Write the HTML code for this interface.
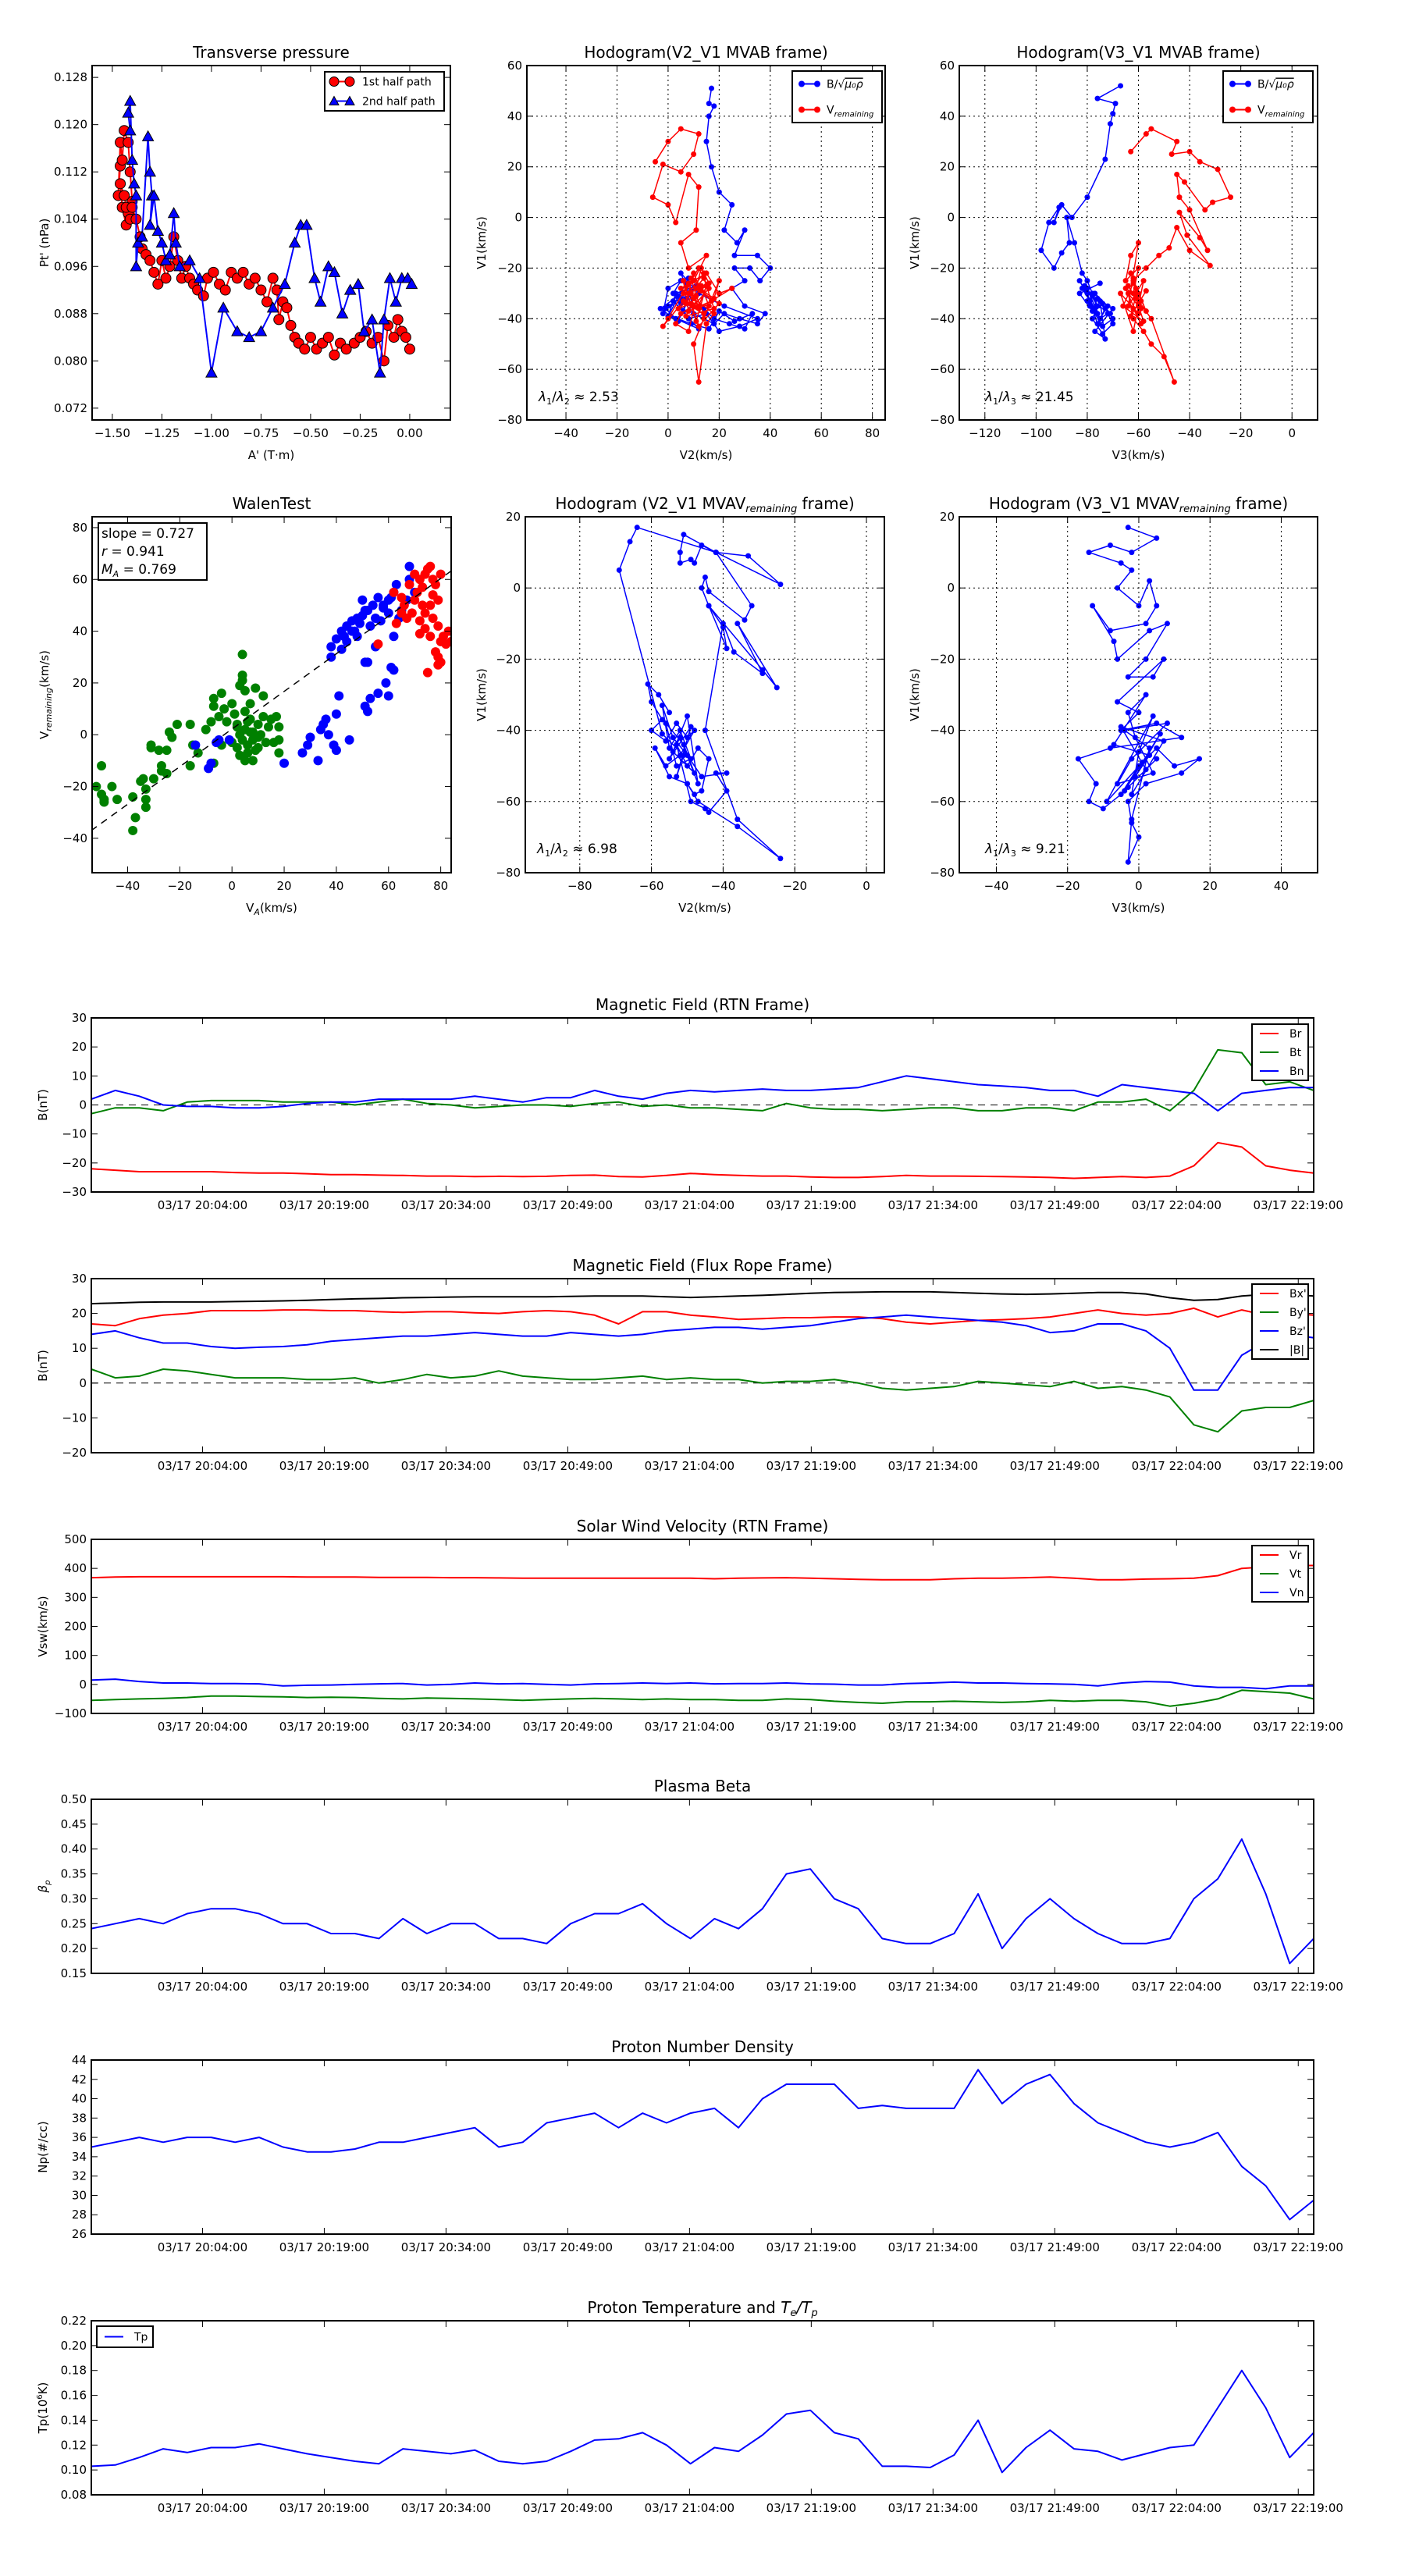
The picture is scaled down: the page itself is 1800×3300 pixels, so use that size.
<!DOCTYPE html>
<html><head><meta charset="utf-8"><style>
html,body{margin:0;padding:0;background:#fff}
svg{display:block}
text{font-family:"DejaVu Sans","Liberation Sans",sans-serif;fill:#000}
</style></head><body>
<svg id="fig" xmlns="http://www.w3.org/2000/svg" width="1800" height="3300" viewBox="0 0 1800 3300">
<rect x="0" y="0" width="1800" height="3300" fill="#fff"/>
</svg>
<script>
// ---------- DATA ----------
const tpRedA=[-1.46,-1.47,-1.46,-1.45,-1.44,-1.42,-1.41,-1.40,-1.42,-1.43,-1.45,-1.46,-1.44,-1.43,-1.41,-1.40,-1.38,-1.36,-1.35,-1.33,-1.31,-1.29,-1.27,-1.25,-1.23,-1.21,-1.19,-1.17,-1.15,-1.13,-1.11,-1.09,-1.07,-1.04,-1.02,-0.99,-0.96,-0.93,-0.90,-0.87,-0.84,-0.81,-0.78,-0.75,-0.72,-0.69,-0.67,-0.66,-0.64,-0.62,-0.60,-0.58,-0.56,-0.53,-0.50,-0.47,-0.44,-0.41,-0.38,-0.35,-0.32,-0.28,-0.25,-0.22,-0.19,-0.16,-0.13,-0.11,-0.08,-0.06,-0.04,-0.02,0.00];
const tpRedP=[0.113,0.108,0.117,0.114,0.119,0.117,0.112,0.107,0.105,0.103,0.106,0.110,0.108,0.106,0.104,0.106,0.104,0.101,0.099,0.098,0.097,0.095,0.093,0.097,0.094,0.096,0.101,0.097,0.094,0.096,0.094,0.093,0.092,0.091,0.094,0.095,0.093,0.092,0.095,0.094,0.095,0.093,0.094,0.092,0.090,0.094,0.092,0.087,0.090,0.089,0.086,0.084,0.083,0.082,0.084,0.082,0.083,0.084,0.081,0.083,0.082,0.083,0.084,0.085,0.083,0.084,0.080,0.086,0.084,0.087,0.085,0.084,0.082];
const tpBlueA=[-1.41,-1.42,-1.41,-1.40,-1.39,-1.38,-1.38,-1.37,-1.35,-1.32,-1.31,-1.30,-1.31,-1.29,-1.27,-1.25,-1.23,-1.21,-1.19,-1.18,-1.16,-1.11,-1.06,-1.00,-0.94,-0.87,-0.81,-0.75,-0.69,-0.63,-0.58,-0.55,-0.52,-0.48,-0.45,-0.41,-0.38,-0.34,-0.30,-0.26,-0.23,-0.19,-0.15,-0.13,-0.10,-0.07,-0.04,-0.01,0.01];
const tpBlueP=[0.119,0.122,0.124,0.114,0.110,0.108,0.096,0.100,0.101,0.118,0.112,0.108,0.103,0.108,0.102,0.100,0.097,0.098,0.105,0.100,0.096,0.097,0.094,0.078,0.089,0.085,0.084,0.085,0.089,0.093,0.100,0.103,0.103,0.094,0.090,0.096,0.095,0.088,0.092,0.093,0.085,0.087,0.078,0.087,0.094,0.090,0.094,0.094,0.093];

const h1BV2=[17,16,18,16,15,17,20,25,22,27,30,26,35,40,36,32,26,30,25,30,38,35,28,22,18,10,5,0,-2,0,5,2,8,15,20,28,35,22,12,5,10,3,12,2,6,9,4,-1,7,11,3,0,8,5,14,18,24,30,33,26,20,16,9,1,-3,4,7];
const h1BV1=[51,45,44,40,30,20,10,5,-5,-10,-5,-15,-15,-20,-25,-20,-20,-25,-28,-35,-38,-42,-40,-38,-42,-38,-32,-35,-38,-28,-25,-30,-40,-38,-45,-43,-40,-35,-30,-22,-35,-40,-44,-33,-37,-29,-41,-36,-32,-27,-30,-39,-24,-34,-36,-40,-42,-44,-38,-41,-37,-44,-42,-39,-36,-31,-26];
const h1VV2=[-5,0,5,12,10,5,-2,-6,0,3,8,12,11,5,8,15,10,6,12,16,10,5,3,8,12,18,20,14,10,12,15,18,10,5,15,20,25,12,8,0,-2,6,16,13,9,11,14,7,10,13,17,8,6,11,15,12,9,14,18,7,10,13,16,4,9,12,20,11,8,14];
const h1VV1=[22,30,35,33,25,18,21,8,5,-2,17,12,-5,-10,-20,-15,-25,-30,-20,-28,-35,-38,-42,-45,-28,-32,-25,-40,-50,-65,-42,-38,-32,-28,-22,-30,-28,-36,-26,-40,-43,-33,-35,-27,-24,-31,-38,-34,-22,-29,-33,-37,-25,-41,-27,-35,-30,-24,-36,-39,-32,-20,-26,-36,-34,-43,-34,-28,-30,-22];

const h2BV3=[-67,-76,-69,-70,-71,-73,-80,-86,-90,-93,-91,-95,-98,-93,-90,-87,-88,-85,-82,-80,-78,-76,-80,-75,-72,-70,-74,-78,-75,-73,-77,-70,-80,-83,-76,-82,-79,-77,-74,-71,-78,-81,-76,-73,-79,-75,-72,-77,-80,-74,-70,-76,-78,-83,-75];
const h2BV1=[52,47,45,41,37,23,8,0,5,-2,4,-2,-13,-20,-14,-10,0,-10,-22,-25,-30,-35,-28,-40,-38,-42,-46,-40,-33,-48,-45,-36,-30,-25,-38,-28,-33,-37,-34,-38,-31,-27,-42,-36,-35,-40,-35,-30,-33,-43,-40,-32,-37,-30,-26];
const h2VV3=[-63,-57,-55,-45,-47,-40,-36,-29,-24,-31,-34,-42,-45,-44,-40,-33,-36,-44,-41,-32,-40,-45,-48,-52,-57,-62,-60,-64,-62,-58,-55,-50,-46,-55,-62,-60,-65,-63,-60,-64,-58,-62,-67,-60,-61,-59,-63,-57,-60,-62,-66,-58,-61,-64,-59,-62,-60,-57,-63,-61,-65,-59,-62];
const h2VV1=[26,33,35,30,25,26,22,19,8,6,3,14,17,8,3,-13,-8,2,-7,-19,-13,-4,-12,-15,-20,-25,-35,-30,-40,-45,-50,-55,-65,-40,-30,-20,-25,-15,-10,-35,-25,-45,-30,-38,-28,-33,-22,-37,-30,-26,-35,-41,-32,-27,-36,-24,-34,-29,-39,-31,-28,-42,-36];

const wGx=[-52,-50,-50,-49,-49,-46,-44,-38,-37,-38,-35,-34,-33,-33,-33,-31,-31,-30,-28,-27,-27,-25,-25,-24,-23,-21,-16,-16,-15,-13,-10,-8,-7,-7,-7,-5,-4,-4,-3,-2,0,1,2,3,4,4,4,5,5,6,6,7,8,8,9,10,10,11,12,12,13,14,15,16,17,18,18,18,2,0,3,5,7,9,3,4,6,8,2,5,7,10];
const wGy=[-20,-12,-23,-25,-26,-20,-25,-24,-32,-37,-18,-17,-21,-25,-28,-4,-5,-17,-6,-12,-14,-15,-6,1,-1,4,4,-12,-4,-7,2,5,11,14,-11,7,16,-4,10,5,12,8,3,19,23,31,21,17,-10,5,-7,1,-2,-10,18,4,-5,0,7,15,-3,3,6,-3,7,-2,-7,3,-5,-3,0,2,6,-6,-8,-2,-4,1,4,9,12,-1];
const wBx=[-14,-9,-8,-6,-5,-1,20,27,29,30,33,34,35,36,37,39,40,40,41,45,51,52,51,52,53,56,59,60,61,62,38,38,40,42,44,46,48,50,52,54,55,56,58,60,62,62,64,65,67,68,68,70,44,47,50,53,57,60,63,48,42,55,46,49,51,58,61,43];
const wBy=[-4,-13,-11,-3,-2,-2,-11,-7,-4,-1,-10,2,4,6,0,-4,-6,8,15,-2,11,9,28,28,14,16,20,15,26,25,30,34,37,40,36,44,45,52,48,50,34,53,50,47,38,55,45,48,52,60,65,55,42,40,46,42,44,52,58,38,33,45,40,43,48,49,53,38];
const wRx=[56,62,63,65,66,68,70,72,73,74,75,76,77,78,79,80,76,74,72,70,67,72,74,76,77,79,80,81,83,84,78,79,80,75,79,82,65,71,73,77,69];
const wRy=[35,55,43,47,50,58,62,60,57,62,64,65,60,58,52,62,50,47,44,52,45,39,41,38,45,42,36,38,40,36,32,30,28,24,27,35,53,55,50,54,47];
const walenSlope=0.727, walenIntercept=2.2;

const h3V2=[-55,-58,-61,-60,-57,-60,-56,-53,-50,-48,-52,-56,-59,-55,-50,-48,-46,-44,-47,-50,-53,-49,-45,-44,-39,-42,-39,-46,-50,-54,-57,-55,-52,-49,-53,-56,-51,-48,-54,-50,-47,-52,-55,-49,-53,-51,-57,-69,-66,-64,-42,-33,-24,-42,-51,-52,-52,-49,-48,-46,-42,-32,-34,-44,-45,-46,-44,-40,-39,-44,-29,-25,-36,-29,-37,-40,-45,-36,-24,-36,-47,-50];
const h3V1=[-35,-30,-27,-32,-37,-40,-43,-38,-42,-40,-47,-50,-45,-53,-55,-58,-57,-48,-45,-50,-44,-60,-62,-63,-57,-52,-52,-53,-47,-42,-33,-45,-40,-48,-50,-38,-44,-52,-46,-36,-55,-42,-48,-39,-53,-47,-41,5,13,17,10,9,1,10,15,10,7,8,7,12,10,-5,-9,-1,3,0,-5,-11,-17,-5,-23,-28,-10,-24,-18,-10,-40,-65,-76,-67,-60,-55];

const h4V3=[-3,5,-2,-8,-14,-5,-2,-6,0,3,5,2,-8,-13,-7,-6,3,8,2,-3,4,7,-6,0,-5,5,12,-8,-17,-12,-14,-10,-5,0,5,10,17,12,2,-3,-2,0,-3,-2,3,-4,8,-2,-6,4,-1,-3,2,-7,3,-1,6,-4,1,-9,4,0,-2,7,-5,2,-3,5];
const h4V1=[17,14,10,12,10,7,5,0,-5,2,-5,-10,-12,-5,-15,-20,-12,-10,-20,-25,-25,-20,-32,-35,-40,-38,-42,-45,-48,-55,-60,-62,-58,-50,-45,-50,-48,-52,-55,-60,-66,-70,-77,-65,-45,-40,-38,-48,-55,-52,-42,-35,-30,-44,-47,-53,-41,-57,-49,-60,-36,-46,-58,-43,-39,-51,-56,-48];

// time series (minutes after 19:50, evenly sampled from tStart to tEnd)
const tStart=0.3, tEnd=150.9;
const tickMinutes=[14,29,44,59,74,89,104,119,134,149];
const tickLabels=["03/17 20:04:00","03/17 20:19:00","03/17 20:34:00","03/17 20:49:00","03/17 21:04:00","03/17 21:19:00","03/17 21:34:00","03/17 21:49:00","03/17 22:04:00","03/17 22:19:00"];
const Br=[-22,-22.5,-23,-23,-23,-23,-23.3,-23.5,-23.5,-23.7,-24,-24,-24.2,-24.3,-24.5,-24.5,-24.7,-24.6,-24.7,-24.6,-24.3,-24.2,-24.7,-24.8,-24.3,-23.6,-24,-24.3,-24.5,-24.5,-24.8,-25,-25,-24.7,-24.3,-24.5,-24.5,-24.6,-24.7,-24.8,-25,-25.3,-25,-24.7,-25,-24.5,-21,-13,-14.5,-21,-22.5,-23.5];
const Bt=[-3,-1,-1,-2,1,1.5,1.5,1.5,1,1,1,0,1,2,0.5,0,-1,-0.5,0,0,-0.5,0.5,1,-0.5,0,-1,-1,-1.5,-2,0.5,-1,-1.5,-1.5,-2,-1.5,-1,-1,-2,-2,-1,-1,-2,1,1,2,-2,5,19,18,7,8,5];
const Bn=[2,5,3,0,-0.5,-0.5,-1,-1,-0.5,0.5,1,1,2,2,2,2,3,2,1,2.5,2.5,5,3,2,4,5,4.5,5,5.5,5,5,5.5,6,8,10,9,8,7,6.5,6,5,5,3,7,6,5,4,-2,4,5,6,6];
const BxF=[17,16.5,18.5,19.5,20,20.8,20.8,20.8,21,21,20.8,20.8,20.5,20.3,20.5,20.5,20.2,20,20.5,20.8,20.5,19.5,17,20.5,20.5,19.5,19,18.3,18.5,18.8,18.8,19,19,18.5,17.5,17,17.5,18,18.2,18.5,19,20,21,20,19.5,20,21.5,19,21,19.5,20,19.5];
const ByF=[4,1.5,2,4,3.5,2.5,1.5,1.5,1.5,1,1,1.5,0,1,2.5,1.5,2,3.5,2,1.5,1,1,1.5,2,1,1.5,1,1,0,0.5,0.5,1,0,-1.5,-2,-1.5,-1,0.5,0,-0.5,-1,0.5,-1.5,-1,-2,-4,-12,-14,-8,-7,-7,-5];
const BzF=[14,15,13,11.5,11.5,10.5,10,10.3,10.5,11,12,12.5,13,13.5,13.5,14,14.5,14,13.5,13.5,14.5,14,13.5,14,15,15.5,16,16,15.5,16,16.5,17.5,18.5,19,19.5,19,18.5,18,17.5,16.5,14.5,15,17,17,15,10,-2,-2,8,12,14,13];
const BmagF=[22.8,23,23.2,23.3,23.3,23.3,23.4,23.5,23.6,23.8,24,24.2,24.3,24.5,24.6,24.7,24.8,24.8,24.8,24.8,24.9,25,25,25,24.8,24.6,24.8,25,25.2,25.5,25.8,26,26.1,26.2,26.2,26.2,26,25.8,25.6,25.5,25.6,25.8,26,26,25.6,24.5,23.8,24,25,25.5,25.5,25];
const Vr=[368,370,371,371,371,371,371,371,371,370,370,370,369,369,369,368,368,367,366,366,366,366,366,366,366,366,364,366,367,368,366,364,362,361,361,361,364,366,366,368,370,366,361,361,363,364,366,375,400,405,410,410];
const Vt=[-55,-52,-50,-48,-45,-40,-40,-42,-43,-45,-44,-45,-48,-50,-47,-48,-50,-52,-55,-52,-50,-48,-50,-52,-50,-52,-52,-55,-55,-50,-52,-58,-62,-65,-60,-60,-58,-60,-62,-60,-55,-58,-55,-55,-60,-75,-65,-50,-20,-25,-30,-50];
const Vn=[15,18,10,5,5,3,3,2,-5,-3,-2,0,2,3,-2,0,5,2,3,0,-2,2,3,5,3,5,2,3,3,5,2,1,-2,-2,3,5,8,5,5,3,2,0,-5,5,10,8,-5,-10,-10,-15,-5,-5];
const beta=[0.24,0.25,0.26,0.25,0.27,0.28,0.28,0.27,0.25,0.25,0.23,0.23,0.22,0.26,0.23,0.25,0.25,0.22,0.22,0.21,0.25,0.27,0.27,0.29,0.25,0.22,0.26,0.24,0.28,0.35,0.36,0.30,0.28,0.22,0.21,0.21,0.23,0.31,0.20,0.26,0.30,0.26,0.23,0.21,0.21,0.22,0.30,0.34,0.42,0.31,0.17,0.22];
const Np=[35,35.5,36,35.5,36,36,35.5,36,35,34.5,34.5,34.8,35.5,35.5,36,36.5,37,35,35.5,37.5,38,38.5,37,38.5,37.5,38.5,39,37,40,41.5,41.5,41.5,39,39.3,39,39,39,43,39.5,41.5,42.5,39.5,37.5,36.5,35.5,35,35.5,36.5,33,31,27.5,29.5];
const Tp=[0.103,0.104,0.110,0.117,0.114,0.118,0.118,0.121,0.117,0.113,0.110,0.107,0.105,0.117,0.115,0.113,0.116,0.107,0.105,0.107,0.115,0.124,0.125,0.130,0.120,0.105,0.118,0.115,0.128,0.145,0.148,0.130,0.125,0.103,0.103,0.102,0.112,0.140,0.098,0.118,0.132,0.117,0.115,0.108,0.113,0.118,0.120,0.150,0.180,0.150,0.110,0.130];

// ---------- DRAWING ----------
const NS="http://www.w3.org/2000/svg";
const fig=document.getElementById('fig');
function mk(tag,attrs,parent,txt){const e=document.createElementNS(NS,tag);for(const k in attrs)e.setAttribute(k,attrs[k]);if(txt!==undefined)e.textContent=txt;(parent||fig).appendChild(e);return e;}
function group(name){const g=mk('g',{},fig);


return g;}
function panel(name,bx,xd,yd){
  const g=group(name);
  const X=v=>bx[0]+(v-xd[0])/(xd[1]-xd[0])*(bx[1]-bx[0]);
  const Y=v=>bx[3]-(v-yd[0])/(yd[1]-yd[0])*(bx[3]-bx[2]);
  const clipId='c'+name;
  const cp=mk('clipPath',{id:clipId},g);mk('rect',{x:bx[0],y:bx[2],width:bx[1]-bx[0],height:bx[3]-bx[2]},cp);
  const plot=mk('g',{'clip-path':'url(#'+clipId+')'},g);
  
  
  return {g,plot,X,Y,bx};
}
function frame(p,xt,xl,yt,yl,grid){
  const b=p.bx,g=p.g;
  xt.forEach((v,i)=>{const x=p.X(v);
    if(grid){const gl=mk('line',{x1:x,x2:x,y1:b[2],y2:b[3],stroke:'#000','stroke-width':1,'stroke-dasharray':'2,4'},g);
      }
    mk('line',{x1:x,x2:x,y1:b[3],y2:b[3]-8,stroke:'#000','stroke-width':1},g);
    mk('line',{x1:x,x2:x,y1:b[2],y2:b[2]+8,stroke:'#000','stroke-width':1},g);
    const t=mk('text',{x:x,y:b[3]+22,'font-size':15,'text-anchor':'middle'},g,xl[i]);
    
    
  });
  yt.forEach((v,i)=>{const y=p.Y(v);
    if(grid){const gl=mk('line',{x1:b[0],x2:b[1],y1:y,y2:y,stroke:'#000','stroke-width':1,'stroke-dasharray':'2,4'},g);
      }
    mk('line',{x1:b[0],x2:b[0]+8,y1:y,y2:y,stroke:'#000','stroke-width':1},g);
    mk('line',{x1:b[1],x2:b[1]-8,y1:y,y2:y,stroke:'#000','stroke-width':1},g);
    const t=mk('text',{x:b[0]-6,y:y+5,'font-size':15,'text-anchor':'end'},g,yl[i]);
    
    
  });
  const r=mk('rect',{x:b[0],y:b[2],width:b[1]-b[0],height:b[3]-b[2],fill:'none',stroke:'#000','stroke-width':2},g);
  
  
}
function title(p,html,name){const b=p.bx;const t=mk('text',{x:(b[0]+b[1])/2,y:b[2]-10,'font-size':20,'text-anchor':'middle'},p.g);t.innerHTML=html;
  
  }
function xlabel(p,html){const b=p.bx;const t=mk('text',{x:(b[0]+b[1])/2,y:b[3]+50,'font-size':15,'text-anchor':'middle'},p.g);t.innerHTML=html;
  
  }
function ylabel(p,html,x){const b=p.bx;const cy=(b[2]+b[3])/2;const t=mk('text',{x:x,y:cy,'font-size':15,'text-anchor':'middle',transform:'rotate(-90 '+x+' '+cy+')'},p.g);t.innerHTML=html;
  
  }
function pathLine(p,xs,ys,color,w,name){let d='';const n=Math.min(xs.length,ys.length);for(let i=0;i<n;i++)d+=(i?'L':'M')+p.X(xs[i]).toFixed(1)+' '+p.Y(ys[i]).toFixed(1);
  const e=mk('path',{d:d,fill:'none',stroke:color,'stroke-width':w,'stroke-linejoin':'round'},p.plot);
  
  return e;}
function dots(p,xs,ys,color,r,stroke,name){const n=Math.min(xs.length,ys.length);for(let i=0;i<n;i++){
  const c=mk('circle',{cx:p.X(xs[i]),cy:p.Y(ys[i]),r:r,fill:color,stroke:stroke||'none','stroke-width':1},p.plot);
  
  }}
function tris(p,xs,ys,color,s,name){const n=Math.min(xs.length,ys.length);for(let i=0;i<n;i++){const x=p.X(xs[i]),y=p.Y(ys[i]);
  const c=mk('polygon',{points:`${x},${y-s} ${x-s},${y+s*0.8} ${x+s},${y+s*0.8}`,fill:color,stroke:'#000','stroke-width':1},p.plot);
  
  }}
function legend(p,x,y,w,h,items,name){const g=mk('g',{},p.g);
  
  
  mk('rect',{x:x,y:y,width:w,height:h,fill:'#fff',stroke:'#000','stroke-width':2},g);
  const step=h/items.length;
  items.forEach((it,i)=>{const cy=y+step*(i+0.5);
    const e=mk('g',{},g);
    
    
    mk('line',{x1:x+10,x2:x+34,y1:cy,y2:cy,stroke:it.c,'stroke-width':2},e);
    if(it.m==='o'){mk('circle',{cx:x+12,cy:cy,r:it.r||4,fill:it.c,stroke:it.s||'none'},e);mk('circle',{cx:x+32,cy:cy,r:it.r||4,fill:it.c,stroke:it.s||'none'},e);}
    if(it.m==='^'){[x+12,x+32].forEach(cx=>mk('polygon',{points:`${cx},${cy-6} ${cx-6},${cy+5} ${cx+6},${cy+5}`,fill:it.c,stroke:'#000'},e));}
    const t=mk('text',{x:x+(it.tx||44),y:cy+5,'font-size':it.fs||14},e);t.innerHTML=it.t;});
}
function annot(p,x,y,html){const t=mk('text',{x:x,y:y,'font-size':17},p.g);t.innerHTML=html;
  
  }
const rng=(a,b,s)=>{const r=[];for(let v=a;v<=b+1e-9;v+=s)r.push(+v.toFixed(6));return r;};
const mi=s=>String(s).replace('-','\u2212');

// ---- Transverse pressure
let p=panel('transverse-pressure',[118,577,84,538],[-1.602,0.205],[0.070,0.130]);
pathLine(p,tpRedA,tpRedP,'#f00',2,'first-half-line');dots(p,tpRedA,tpRedP,'#f00',6.5,'#000','first-half-point');
pathLine(p,tpBlueA,tpBlueP,'#00f',2,'second-half-line');tris(p,tpBlueA,tpBlueP,'#00f',7,'second-half-point');
let xt=rng(-1.5,0,0.25);frame(p,xt,xt.map(v=>mi(v.toFixed(2))),rng(0.072,0.128,0.008),rng(0.072,0.128,0.008).map(v=>v.toFixed(3)),false);
title(p,'Transverse pressure');xlabel(p,"A' (T·m)");ylabel(p,"Pt' (nPa)",62);
legend(p,416,92,153,50,[{c:'#f00',m:'o',r:6,s:'#000',t:'1st half path',tx:48},{c:'#00f',m:'^',t:'2nd half path',tx:48}]);

// ---- Hodogram V2_V1 MVAB
p=panel('hodogram-v2v1-mvab',[675,1134,84,538],[-55.3,85],[-80,60]);
pathLine(p,h1BV2,h1BV1,'#00f',1.5,'b-series-line');dots(p,h1BV2,h1BV1,'#00f',3.5,null,'b-series-point');
pathLine(p,h1VV2,h1VV1,'#f00',1.5,'v-series-line');dots(p,h1VV2,h1VV1,'#f00',3.5,null,'v-series-point');
xt=rng(-40,80,20);frame(p,xt,xt.map(mi),rng(-80,60,20),rng(-80,60,20).map(mi),true);
title(p,'Hodogram(V2_V1 MVAB frame)');xlabel(p,'V2(km/s)');ylabel(p,'V1(km/s)',622);
legend(p,1015,91,115,66,[{c:'#00f',m:'o',t:'B/√<tspan text-decoration="overline" font-style="italic">μ₀ρ</tspan>'},{c:'#f00',m:'o',t:'V<tspan font-size="10" dy="4" font-style="italic">remaining</tspan>'}]);
annot(p,690,514,'<tspan font-style="italic">λ</tspan><tspan font-size="11" dy="4">1</tspan><tspan dy="-4">/</tspan><tspan font-style="italic">λ</tspan><tspan font-size="11" dy="4">2</tspan><tspan dy="-4"> ≈ 2.53</tspan>');

// ---- Hodogram V3_V1 MVAB
p=panel('hodogram-v3v1-mvab',[1229,1688,84,538],[-130,10],[-80,60]);
pathLine(p,h2BV3,h2BV1,'#00f',1.5,'b-series-line');dots(p,h2BV3,h2BV1,'#00f',3.5,null,'b-series-point');
pathLine(p,h2VV3,h2VV1,'#f00',1.5,'v-series-line');dots(p,h2VV3,h2VV1,'#f00',3.5,null,'v-series-point');
xt=rng(-120,0,20);frame(p,xt,xt.map(mi),rng(-80,60,20),rng(-80,60,20).map(mi),true);
title(p,'Hodogram(V3_V1 MVAB frame)');xlabel(p,'V3(km/s)');ylabel(p,'V1(km/s)',1177);
legend(p,1567,91,115,66,[{c:'#00f',m:'o',t:'B/√<tspan text-decoration="overline" font-style="italic">μ₀ρ</tspan>'},{c:'#f00',m:'o',t:'V<tspan font-size="10" dy="4" font-style="italic">remaining</tspan>'}]);
annot(p,1262,514,'<tspan font-style="italic">λ</tspan><tspan font-size="11" dy="4">1</tspan><tspan dy="-4">/</tspan><tspan font-style="italic">λ</tspan><tspan font-size="11" dy="4">3</tspan><tspan dy="-4"> ≈ 21.45</tspan>');

// ---- Walen test
p=panel('walen-test',[118,578,662,1118],[-53.6,84],[-53.3,84.2]);
dots(p,wGx,wGy,'#008000',6,null,'green-point');dots(p,wBx,wBy,'#00f',6,null,'blue-point');dots(p,wRx,wRy,'#f00',6,null,'red-point');
const fl=mk('line',{x1:p.X(-54),y1:p.Y(walenIntercept+walenSlope*-54),x2:p.X(85),y2:p.Y(walenIntercept+walenSlope*85),stroke:'#000','stroke-width':1.5,'stroke-dasharray':'9,7'},p.plot);


xt=rng(-40,80,20);frame(p,xt,xt.map(mi),rng(-40,80,20),rng(-40,80,20).map(mi),false);
title(p,'WalenTest');xlabel(p,'V<tspan font-size="11" dy="4" font-style="italic">A</tspan><tspan dy="-4">(km/s)</tspan>');ylabel(p,'V<tspan font-size="11" dy="4" font-style="italic">remaining</tspan><tspan dy="-4">(km/s)</tspan>',62);
const sb=mk('g',{},p.g);
mk('rect',{x:126,y:670,width:139,height:73,fill:'#fff',stroke:'#000','stroke-width':2},sb);
mk('text',{x:130,y:689,'font-size':17},sb,'slope = 0.727');
mk('text',{x:130,y:712,'font-size':17},sb).innerHTML='<tspan font-style="italic">r</tspan> = 0.941';
mk('text',{x:130,y:735,'font-size':17},sb).innerHTML='<tspan font-style="italic">M</tspan><tspan font-size="11" dy="4" font-style="italic">A</tspan><tspan dy="-4"> = 0.769</tspan>';

// ---- Hodogram V2_V1 MVAV
p=panel('hodogram-v2v1-mvav',[673,1133,662,1118],[-95.2,5],[-80,20]);
pathLine(p,h3V2,h3V1,'#00f',1.5,'v-series-line');dots(p,h3V2,h3V1,'#00f',3.5,null,'v-series-point');
xt=rng(-80,0,20);frame(p,xt,xt.map(mi),rng(-80,20,20),rng(-80,20,20).map(mi),true);
title(p,'Hodogram (V2_V1 MVAV<tspan font-size="13" dy="4" font-style="italic">remaining</tspan><tspan dy="-4"> frame)</tspan>');xlabel(p,'V2(km/s)');ylabel(p,'V1(km/s)',622);
annot(p,688,1093,'<tspan font-style="italic">λ</tspan><tspan font-size="11" dy="4">1</tspan><tspan dy="-4">/</tspan><tspan font-style="italic">λ</tspan><tspan font-size="11" dy="4">2</tspan><tspan dy="-4"> ≈ 6.98</tspan>');

// ---- Hodogram V3_V1 MVAV
p=panel('hodogram-v3v1-mvav',[1229,1688,662,1118],[-50.4,50.2],[-80,20]);
pathLine(p,h4V3,h4V1,'#00f',1.5,'v-series-line');dots(p,h4V3,h4V1,'#00f',3.5,null,'v-series-point');
xt=rng(-40,40,20);frame(p,xt,xt.map(mi),rng(-80,20,20),rng(-80,20,20).map(mi),true);
title(p,'Hodogram (V3_V1 MVAV<tspan font-size="13" dy="4" font-style="italic">remaining</tspan><tspan dy="-4"> frame)</tspan>');xlabel(p,'V3(km/s)');ylabel(p,'V1(km/s)',1177);
annot(p,1262,1093,'<tspan font-style="italic">λ</tspan><tspan font-size="11" dy="4">1</tspan><tspan dy="-4">/</tspan><tspan font-style="italic">λ</tspan><tspan font-size="11" dy="4">3</tspan><tspan dy="-4"> ≈ 9.21</tspan>');

// ---- Time series
const tops=[1304,1638,1972,2305,2639,2973];
function tsPanel(i,name,yd,yt,yfmt,series,ttl,ylab,leg,zero){
  const pp=panel(name,[117,1683,tops[i],tops[i]+223],[tStart,tEnd],yd);
  if(zero){const z=mk('line',{x1:117,x2:1683,y1:pp.Y(0),y2:pp.Y(0),stroke:'#000','stroke-width':1,'stroke-dasharray':'9,7'},pp.plot);
    }
  series.forEach(s=>{const n=s.v.length;const ts=s.v.map((_,k)=>tStart+k*(tEnd-tStart)/(n-1));pathLine(pp,ts,s.v,s.c,2,s.n);});
  frame(pp,tickMinutes,tickLabels,yt,yt.map(yfmt),false);
  title(pp,ttl);ylabel(pp,ylab,60);
  if(leg)legend(pp,leg[0],tops[i]+leg[1],leg[2],leg[3],series.map(s=>({c:s.c,t:s.l,tx:48})));
}
tsPanel(0,'magnetic-field-rtn',[-30,30],rng(-30,30,10),mi,[{v:Br,c:'#f00',n:'br-line',l:'Br'},{v:Bt,c:'#008000',n:'bt-line',l:'Bt'},{v:Bn,c:'#00f',n:'bn-line',l:'Bn'}],'Magnetic Field (RTN Frame)','B(nT)',[1604,8,72,72],true);
tsPanel(1,'magnetic-field-flux-rope',[-20,30],rng(-20,30,10),mi,[{v:BxF,c:'#f00',n:'bx-line',l:"Bx'"},{v:ByF,c:'#008000',n:'by-line',l:"By'"},{v:BzF,c:'#00f',n:'bz-line',l:"Bz'"},{v:BmagF,c:'#000',n:'bmag-line',l:'|B|'}],'Magnetic Field (Flux Rope Frame)','B(nT)',[1604,7,72,96],true);
tsPanel(2,'solar-wind-velocity',[-100,500],rng(-100,500,100),mi,[{v:Vr,c:'#f00',n:'vr-line',l:'Vr'},{v:Vt,c:'#008000',n:'vt-line',l:'Vt'},{v:Vn,c:'#00f',n:'vn-line',l:'Vn'}],'Solar Wind Velocity (RTN Frame)','Vsw(km/s)',[1604,8,72,72],false);
tsPanel(3,'plasma-beta',[0.15,0.50],rng(0.15,0.50,0.05),v=>v.toFixed(2),[{v:beta,c:'#00f',n:'beta-line',l:'beta'}],'Plasma Beta','<tspan font-style="italic">β</tspan><tspan font-size="10" dy="4" font-style="italic">p</tspan>',null,false);
tsPanel(4,'proton-density',[26,44],rng(26,44,2),v=>String(v),[{v:Np,c:'#00f',n:'np-line',l:'Np'}],'Proton Number Density','Np(#/cc)',null,false);
tsPanel(5,'proton-temperature',[0.08,0.22],rng(0.08,0.22,0.02),v=>v.toFixed(2),[{v:Tp,c:'#00f',n:'tp-line',l:'Tp'}],'Proton Temperature and <tspan font-style="italic">T</tspan><tspan font-size="13" dy="4" font-style="italic">e</tspan><tspan dy="-4" font-style="italic">/T</tspan><tspan font-size="13" dy="4" font-style="italic">p</tspan>','Tp(10<tspan font-size="10" dy="-6">6</tspan><tspan dy="6">K)</tspan>',[124,7,72,27],false);
</script>
</body></html>
